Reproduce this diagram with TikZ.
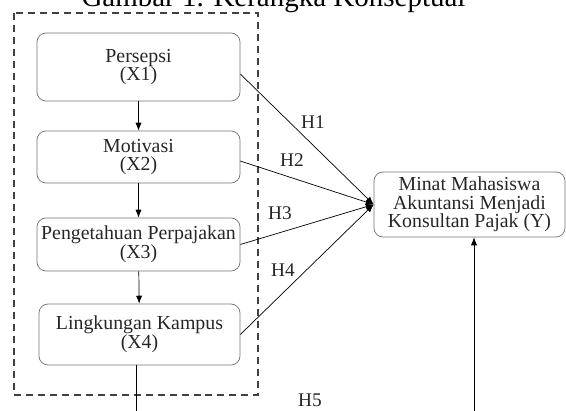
\documentclass[tikz,border=0pt]{standalone}
\usepackage{fontspec}
\setmainfont{Liberation Serif}
\usetikzlibrary{arrows.meta}
\newlength\px
\setlength\px{0.02cm}
\begin{document}
\begin{tikzpicture}[x=1\px,y=-1\px,
        var/.style={draw=black!55, rounded corners=9\px, inner sep=0pt, minimum width=203\px,
            align=center, font=\fontsize{11.3}{10.6}\selectfont, text=black!85},
        hyp/.style={font=\fontsize{11}{12}\selectfont, text=black!85},
        >={Latex[length=4.5pt,width=3.5pt]}]
    \clip (0,0) rectangle (566,411);

    \node[anchor=base, font=\fontsize{16.5}{18}\selectfont] (title) at (273.5,7) {Gambar 1. Kerangka Konseptual};

    \draw[black!75, line width=1.1pt, dash pattern=on 4pt off 2.8pt] (14,13) rectangle (258,395);

    \node[var, minimum height=68\px] (x1) at (138.5,67) {Persepsi\\(X1)};
    \node[var, minimum height=52\px] (x2) at (138.5,157) {Motivasi\\(X2)};
    \node[var, minimum height=53\px] (x3) at (138.5,244.5) {Pengetahuan Perpajakan\\(X3)};
    \node[var, minimum height=61\px, minimum width=201\px] (x4) at (139.5,334.5) {Lingkungan Kampus\\(X4)};
    \node[var, minimum height=65\px, minimum width=191\px] (y) at (469.5,204.5) {Minat Mahasiswa\\Akuntansi Menjadi\\Konsultan Pajak (Y)};

    \coordinate (conv) at (y.west);
    \coordinate (x4out) at (136,411);
    \coordinate (yin) at (474,411);

    \node[hyp] (h1) at (313,122) {H1};
    \node[hyp] (h2) at (292,160) {H2};
    \node[hyp] (h3) at (280,213) {H3};
    \node[hyp] (h4) at (283,270) {H4};
    \node[hyp] (h5) at (310,400) {H5};

    \draw[->] (x1) to (x2); \draw[->] (x2) to (x3); \draw[->] (x3) to (x4);
    \draw[->] ([yshift=-4pt]x1.east) to (conv); \draw[->] ([yshift=-2.3pt]x2.east) to (conv);
    \draw[->] (x3.east) to (conv); \draw[->] (x4.east) to (conv);
    \draw (x4.south -| x4out) to (x4out);
    \draw[->] (yin) to (yin |- y.south);
\end{tikzpicture}
\end{document}
